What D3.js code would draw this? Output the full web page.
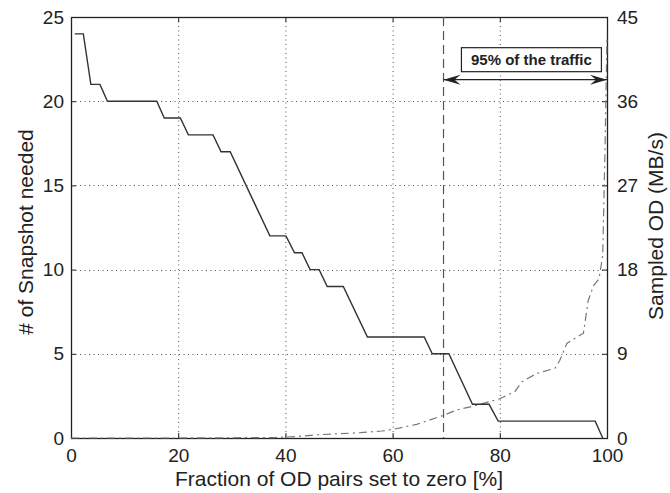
<!DOCTYPE html>
<html>
<head>
<meta charset="utf-8">
<script src="https://cdn.jsdelivr.net/npm/d3@7"></script>
<style>
  body { margin: 0; background: #fff; }
  svg text { font-family: "Liberation Sans", Arial, Helvetica, sans-serif; fill: #222; }
</style>
</head>
<body>
<div id="chart"></div>
<script>
// snapshot curve: [fraction %, # snapshots]
var snapX = [0.7, 2.3, 3.7, 5.4, 6.8, 16, 17.4, 20.4, 21.9, 26.5, 28, 29.7, 37.1, 40.1, 41.7, 43.1, 44.6, 46.3, 47.8, 50.8, 55.3, 65.9, 67.4, 70.5, 74.9, 78, 79.7, 97.8, 99.2];
var snapY = [24, 24, 21, 21, 20, 20, 19, 19, 18, 18, 17, 17, 12, 12, 11, 11, 10, 10, 9, 9, 6, 6, 5, 5, 2, 2, 1, 1, 0];

// sampled OD curve: [fraction %, MB/s]
var odX = [0, 20, 38, 42, 46, 50, 54, 58, 60.1, 64.5, 69.4, 72, 75.7, 78.8, 80, 82.8, 84.1, 86.9, 90.3, 91.2, 92.5, 95.6, 96.5, 97.5, 98.5, 99.2, 99.6, 100];
var odY = [0, 0, 0.05, 0.15, 0.35, 0.45, 0.57, 0.75, 0.93, 1.46, 2.4, 3.0, 3.5, 4.0, 4.2, 4.95, 6.0, 6.9, 7.45, 8.3, 10.1, 11.2, 14.7, 16.3, 17.0, 19.5, 30, 43];

var xTicks = [0, 20, 40, 60, 80, 100];
var leftTicks = [0, 5, 10, 15, 20, 25];
var rightTicks = [0, 9, 18, 27, 36, 45];
var cutoff = 69.5;          // 95% of the traffic boundary
var annotLabel = '95% of the traffic';

var W = 670, H = 493;
var m = {left: 71, right: 63, top: 17, bottom: 55};
var iw = W - m.left - m.right, ih = H - m.top - m.bottom;

var svg = d3.select('#chart').append('svg')
    .attr('width', W)
    .attr('height', H);

var x = d3.scaleLinear().domain([0, 100]).range([m.left, m.left + iw]);
var yL = d3.scaleLinear().domain([0, 25]).range([m.top + ih, m.top]);
var yR = d3.scaleLinear().domain([0, 45]).range([m.top + ih, m.top]);

// grid
var grid = svg.append('g').attr('stroke', '#555').attr('stroke-width', 1)
    .attr('stroke-dasharray', '1,3.5');
grid.selectAll('.gx').data(xTicks.slice(1, -1)).enter().append('line')
    .attr('x1', d => x(d) + 0.5).attr('x2', d => x(d) + 0.5)
    .attr('y1', m.top).attr('y2', m.top + ih);
grid.selectAll('.gy').data(leftTicks.slice(1, -1)).enter().append('line')
    .attr('y1', d => Math.round(yL(d)) + 0.5).attr('y2', d => Math.round(yL(d)) + 0.5)
    .attr('x1', m.left).attr('x2', m.left + iw);

// axes (inside ticks)
var fs = 19;
function styleAxis(g) {
  g.select('.domain').remove();
  g.selectAll('.tick line').attr('stroke', '#222');
  g.selectAll('.tick text').style('font-size', fs + 'px').attr('fill', '#222');
}
svg.append('g').attr('transform', 'translate(0,' + (m.top + ih) + ')')
    .call(d3.axisBottom(x).tickValues(xTicks).tickSize(-5).tickPadding(11))
    .call(styleAxis);
svg.append('g').attr('transform', 'translate(0,' + m.top + ')')
    .call(d3.axisTop(x).tickValues(xTicks).tickSize(-5).tickFormat(''))
    .call(styleAxis);
svg.append('g').attr('transform', 'translate(' + m.left + ',0)')
    .call(d3.axisLeft(yL).tickValues(leftTicks).tickSize(-5).tickPadding(7))
    .call(styleAxis);
svg.append('g').attr('transform', 'translate(' + (m.left + iw) + ',0)')
    .call(d3.axisRight(yR).tickValues(rightTicks).tickSize(-5).tickPadding(10))
    .call(styleAxis);

// frame
svg.append('rect')
    .attr('x', m.left + 0.5).attr('y', m.top + 0.5)
    .attr('width', iw).attr('height', ih)
    .attr('fill', 'none').attr('stroke', '#222').attr('stroke-width', 1.3);

// vertical dashed cutoff
svg.append('line')
    .attr('x1', x(cutoff)).attr('x2', x(cutoff))
    .attr('y1', m.top).attr('y2', m.top + ih)
    .attr('stroke', '#555').attr('stroke-width', 1.2)
    .attr('stroke-dasharray', '9,5');

// sampled OD (dash-dot, right axis)
var odLine = d3.line().x(d => x(d[0])).y(d => yR(d[1]));
svg.append('path')
    .datum(d3.zip(odX, odY))
    .attr('d', odLine)
    .attr('fill', 'none').attr('stroke', '#777').attr('stroke-width', 1.2)
    .attr('stroke-dasharray', '8,4,2,4');

// snapshot curve (left axis)
var snapLine = d3.line().x(d => x(d[0])).y(d => yL(d[1]));
svg.append('path')
    .datum(d3.zip(snapX, snapY))
    .attr('d', snapLine)
    .attr('fill', 'none').attr('stroke', '#333').attr('stroke-width', 1.4);

// double arrow annotation
var ay = yR(38.3);
var ax1 = x(cutoff), ax2 = x(100);
svg.append('line')
    .attr('x1', ax1).attr('x2', ax2).attr('y1', ay).attr('y2', ay)
    .attr('stroke', '#222').attr('stroke-width', 1.3);
function head(tx, dir) {
  return 'M' + tx + ',' + ay +
    'L' + (tx + dir * 17) + ',' + (ay - 5) +
    'L' + (tx + dir * 11) + ',' + ay +
    'L' + (tx + dir * 17) + ',' + (ay + 5) + 'Z';
}
svg.append('path').attr('d', head(ax1, 1)).attr('fill', '#222');
svg.append('path').attr('d', head(ax2, -1)).attr('fill', '#222');

var bx = x(85.9), by = ay - 20;
var annot = svg.append('g');
annot.append('rect')
    .attr('x', bx - 70).attr('y', by - 12)
    .attr('width', 140).attr('height', 24)
    .attr('fill', '#fff').attr('stroke', '#222').attr('stroke-width', 1.2);
annot.append('text')
    .attr('x', bx).attr('y', by + 5)
    .attr('text-anchor', 'middle')
    .style('font-size', '15px').style('font-weight', 'bold')
    .text(annotLabel);

// axis labels
svg.append('text')
    .attr('x', x(50)).attr('y', 486)
    .attr('text-anchor', 'middle')
    .style('font-size', '21px')
    .text('Fraction of OD pairs set to zero [%]');
svg.append('text')
    .attr('transform', 'translate(33,232) rotate(-90)')
    .attr('text-anchor', 'middle')
    .style('font-size', '21px')
    .text('# of Snapshot needed');
svg.append('text')
    .attr('transform', 'translate(663,226) rotate(-90)')
    .attr('text-anchor', 'middle')
    .style('font-size', '21px')
    .text('Sampled OD (MB/s)');
</script>
</body>
</html>
